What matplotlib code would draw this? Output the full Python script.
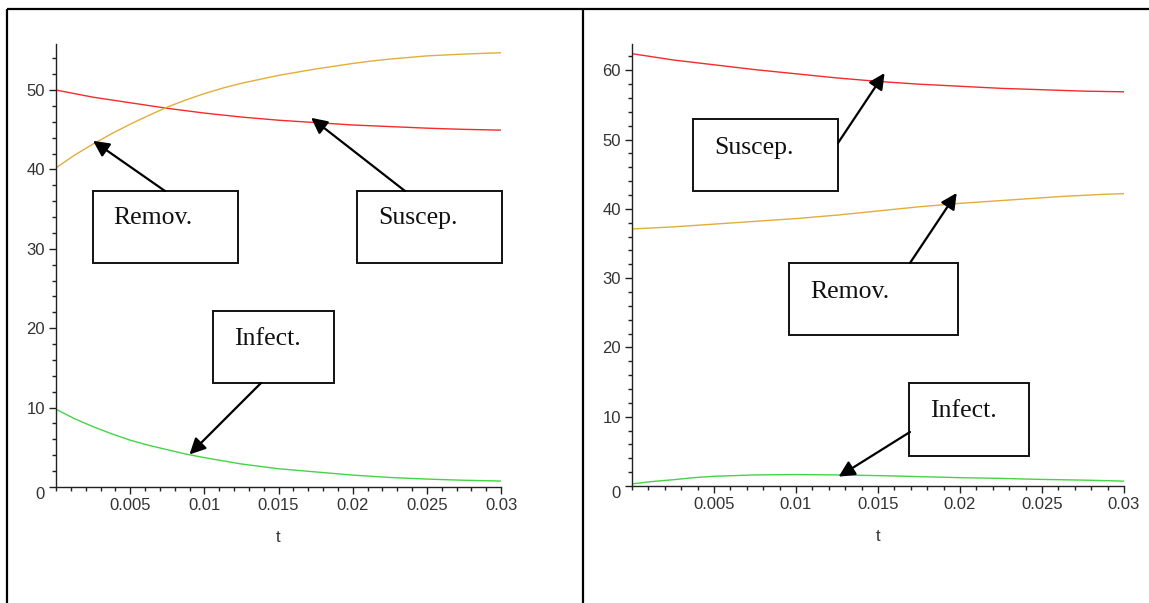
import numpy as np
import matplotlib
matplotlib.use("Agg")
import matplotlib.pyplot as plt
from matplotlib.patches import Rectangle
from matplotlib.ticker import MultipleLocator, FixedLocator

# time grid (every 0.00125)
t = [0, 0.00125, 0.0025, 0.00375, 0.005, 0.00625, 0.0075, 0.00875, 0.01, 0.01125,
     0.0125, 0.01375, 0.015, 0.01625, 0.0175, 0.01875, 0.02, 0.02125, 0.0225, 0.02375,
     0.025, 0.02625, 0.0275, 0.02875, 0.03]

# left panel
left_susc = [50.0, 49.55, 49.1, 48.75, 48.4, 48.05, 47.7, 47.4, 47.1, 46.85, 46.6, 46.4, 46.2,
             46.05, 45.9, 45.75, 45.6, 45.5, 45.4, 45.3, 45.2, 45.12, 45.05, 45.0, 44.95]
left_remov = [40.2, 41.8, 43.2, 44.5, 45.7, 46.8, 47.85, 48.75, 49.55, 50.25, 50.85, 51.35, 51.85,
              52.25, 52.65, 53.0, 53.35, 53.65, 53.9, 54.1, 54.3, 54.42, 54.53, 54.62, 54.7]
left_infect = [9.8, 8.6, 7.6, 6.7, 5.9, 5.25, 4.7, 4.15, 3.7, 3.3, 2.9, 2.6, 2.3,
               2.1, 1.9, 1.7, 1.5, 1.35, 1.2, 1.1, 1.0, 0.92, 0.85, 0.8, 0.75]

# right panel
right_susc = [62.4, 61.95, 61.5, 61.15, 60.8, 60.45, 60.1, 59.8, 59.5, 59.2, 58.9, 58.65, 58.4,
              58.2, 58.0, 57.85, 57.7, 57.55, 57.4, 57.3, 57.2, 57.1, 57.0, 56.95, 56.9]
right_remov = [37.1, 37.25, 37.4, 37.6, 37.8, 38.0, 38.2, 38.4, 38.6, 38.85, 39.1, 39.4, 39.7,
               40.0, 40.3, 40.55, 40.8, 41.0, 41.2, 41.4, 41.6, 41.8, 41.95, 42.1, 42.2]
right_infect = [0.3, 0.65, 0.9, 1.2, 1.4, 1.5, 1.6, 1.63, 1.65, 1.63, 1.6, 1.55, 1.5,
                1.43, 1.35, 1.28, 1.2, 1.15, 1.1, 1.02, 0.95, 0.9, 0.85, 0.78, 0.7]

x_ticks = [0.005, 0.01, 0.015, 0.02, 0.025, 0.03]
x_labels = ["0.005", "0.01", "0.015", "0.02", "0.025", "0.03"]
left_yticks = [0, 10, 20, 30, 40, 50]
right_yticks = [0, 10, 20, 30, 40, 50, 60]

RED = "#f52a2a"
GOLD = "#e2ad3a"
GREEN = "#45d445"
TICK_FONT = "Liberation Sans"
BOX_FONT = "Liberation Serif"

W, H = 1149, 603
fig = plt.figure(figsize=(W / 100, H / 100), dpi=100)


def px_rect(x0, y0, x1, y1):
    # pixel box (top-left origin) -> figure fraction rect
    return [x0 / W, (H - y1) / H, (x1 - x0) / W, (y1 - y0) / H]


def setup_axes(ax, ymax, yticks):
    ax.set_xlim(0, 0.03)
    ax.set_ylim(0, ymax)
    for s in ["top", "right"]:
        ax.spines[s].set_visible(False)
    for s in ["left", "bottom"]:
        ax.spines[s].set_linewidth(1.0)
        ax.spines[s].set_color("#222222")
    ax.xaxis.set_major_locator(FixedLocator(x_ticks))
    ax.set_xticklabels(x_labels)
    ax.xaxis.set_minor_locator(MultipleLocator(0.001))
    ax.yaxis.set_major_locator(FixedLocator(yticks))
    ax.set_yticklabels([str(v) for v in yticks])
    ax.yaxis.set_minor_locator(MultipleLocator(2))
    ax.tick_params(which="major", direction="out", length=5, width=1, color="#222222",
                   labelsize=12, labelcolor="#333333", pad=3)
    ax.tick_params(which="minor", direction="out", length=3, width=1, color="#222222")
    for lab in ax.get_xticklabels() + ax.get_yticklabels():
        lab.set_family(TICK_FONT)
    ax.set_xlabel("t", fontsize=12, family=TICK_FONT, color="#333333", labelpad=12)
    # Maple puts the zero label below the axis line
    ax.yaxis.get_major_ticks()[0].label1.set_verticalalignment("top")
    ax.patch.set_alpha(0)


ax1 = fig.add_axes(px_rect(56, 44, 501, 487))
ax1.plot(t, left_susc, color=RED, lw=1.0)
ax1.plot(t, left_remov, color=GOLD, lw=1.0)
ax1.plot(t, left_infect, color=GREEN, lw=1.0)
setup_axes(ax1, 55.8, left_yticks)

ax2 = fig.add_axes(px_rect(632, 44, 1124, 486))
ax2.plot(t, right_susc, color=RED, lw=1.0)
ax2.plot(t, right_remov, color=GOLD, lw=1.0)
ax2.plot(t, right_infect, color=GREEN, lw=1.0)
setup_axes(ax2, 63.8, right_yticks)

# overlay in pixel coordinates for the table frame and callout boxes
ov = fig.add_axes([0, 0, 1, 1], zorder=5)
ov.set_xlim(0, W)
ov.set_ylim(H, 0)
ov.axis("off")
ov.patch.set_alpha(0)

frame_kw = dict(color="black", lw=1.6, solid_capstyle="butt")
ov.plot([7, W], [9, 9], **frame_kw)
ov.plot([7, 7], [9, H], **frame_kw)
ov.plot([583, 583], [9, H], **frame_kw)

# callouts: (axes, label, box x0, y0, x1, y1, text x, text y, arrow start, arrow tip in data)
callouts = [
    (ax1, "Remov.", 93, 191, 238, 263, 113, 218, (165, 191), (0.0025, 43.6)),
    (ax1, "Suscep.", 357, 191, 502, 263, 378, 218, (405, 191), (0.0172, 46.5)),
    (ax1, "Infect.", 213, 311, 334, 383, 234, 339, (261, 383), (0.0090, 4.1)),
    (ax2, "Suscep.", 693, 119, 838, 191, 714, 148, (838, 143), (0.0154, 59.6)),
    (ax2, "Remov.", 789, 263, 958, 335, 810, 292, (910, 263), (0.0198, 42.3)),
    (ax2, "Infect.", 909, 383, 1029, 456, 930, 411, (910, 432), (0.0126, 1.35)),
]

for ax, label, x0, y0, x1, y1, tx, ty, start, tip in callouts:
    ov.add_patch(Rectangle((x0, y0), x1 - x0, y1 - y0, facecolor="white",
                           edgecolor="#111111", lw=1.4))
    ov.text(tx, ty, label, family=BOX_FONT, fontsize=18.5, color="#111111",
            ha="left", va="center")
    ov.annotate("", xy=tip, xycoords=ax.transData, xytext=start, textcoords=ov.transData,
                arrowprops=dict(arrowstyle="-|>", mutation_scale=24, lw=1.6,
                                color="black", shrinkA=0, shrinkB=0))

fig.savefig("out.png", dpi=100)
